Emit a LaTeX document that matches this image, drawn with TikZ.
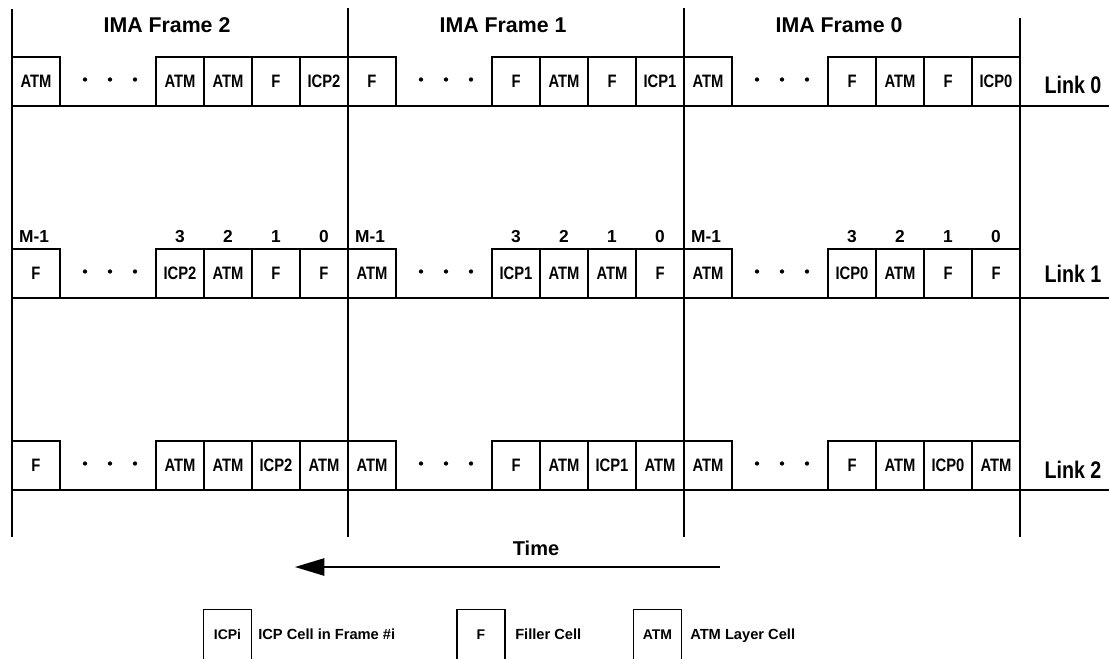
\documentclass[tikz,border=0pt]{standalone}
\usepackage{fontspec}
\setmainfont{Liberation Sans}
\newfontfamily\narrowsf[FakeStretch=0.82]{Liberation Sans}
\usetikzlibrary{arrows.meta}
\begin{document}
\begin{tikzpicture}[x=0.75pt,y=-0.75pt,
  cell/.style={draw, line width=1.05pt, minimum width=36pt, minimum height=36.75pt, inner sep=0pt,
    font=\narrowsf\bfseries\fontsize{13.5}{14}\selectfont},
  lcell/.style={draw, line width=0.9pt, minimum width=36pt, minimum height=38pt, inner sep=0pt,
    font=\bfseries\fontsize{10.5}{12}\selectfont},
  frameline/.style={line width=1.3pt},
  baseline/.style={line width=1.05pt},
  title/.style={font=\bfseries\fontsize{16}{18}\selectfont},
  linklabel/.style={font=\narrowsf\bfseries\fontsize{18}{20}\selectfont},
  idx/.style={anchor=base, inner sep=0pt, font=\bfseries\fontsize{13}{15}\selectfont},
  legtext/.style={anchor=base west, inner sep=0pt, font=\bfseries\fontsize{11}{13}\selectfont},
  timearrow/.style={line width=1.1pt, -{Triangle[length=22pt,width=13pt]}}]
\useasboundingbox (0,0) rectangle (1109,658);

% frame boundary lines
\coordinate (v0t) at (12,9);    \coordinate (v0b) at (12,537);
\coordinate (v1t) at (348,8);   \coordinate (v1b) at (348,537);
\coordinate (v2t) at (684,8);   \coordinate (v2b) at (684,537);
\coordinate (v3t) at (1020,18); \coordinate (v3b) at (1020,537);
\foreach \i in {0,1,2,3} \draw[frameline] (v\i t) -- (v\i b);

% link baselines
\coordinate (b0l) at (12,106);  \coordinate (b0r) at (1109,106);
\coordinate (b1l) at (12,298);  \coordinate (b1r) at (1109,298);
\coordinate (b2l) at (12,490);  \coordinate (b2r) at (1109,490);
\foreach \i in {0,1,2} \draw[baseline] (b\i l) -- (b\i r);

% frame titles
\node[title] (t2) at (167,25) {IMA Frame 2};
\node[title] (t1) at (503,25) {IMA Frame 1};
\node[title] (t0) at (839,25) {IMA Frame 0};

% cells
\foreach \r/\yc/\fr/\xo/\m/\ca/\cb/\cc/\cd in {
  0/81.5/2/12/ATM/ATM/ATM/F/ICP2, 0/81.5/1/348/F/F/ATM/F/ICP1, 0/81.5/0/684/ATM/F/ATM/F/ICP0,
  1/273.5/2/12/F/ICP2/ATM/F/F, 1/273.5/1/348/ATM/ICP1/ATM/ATM/F, 1/273.5/0/684/ATM/ICP0/ATM/F/F,
  2/465.5/2/12/F/ATM/ATM/ICP2/ATM, 2/465.5/1/348/ATM/F/ATM/ICP1/ATM, 2/465.5/0/684/ATM/F/ATM/ICP0/ATM}{
  \node[cell] (c\r-\fr-m) at (\xo+24,\yc) {\m};
  \node[cell] (c\r-\fr-3) at (\xo+168,\yc) {\ca};
  \node[cell] (c\r-\fr-2) at (\xo+216,\yc) {\cb};
  \node[cell] (c\r-\fr-1) at (\xo+264,\yc) {\cc};
  \node[cell] (c\r-\fr-0) at (\xo+312,\yc) {\cd};
  \foreach \dx in {73,98,123} \fill (\xo+\dx,\yc-2) circle (1.6pt);
}

% cell indices above link 1
\foreach \fr/\xo in {2/12,1/348,0/684}{
  \node[idx] (i\fr m) at (\xo+22,242) {M-1};
  \node[idx] (i\fr 3) at (\xo+168,242) {3};
  \node[idx] (i\fr 2) at (\xo+216,242) {2};
  \node[idx] (i\fr 1) at (\xo+264,242) {1};
  \node[idx] (i\fr 0) at (\xo+312,242) {0};
}

% link labels
\node[linklabel] (l0) at (1073,85) {Link 0};
\node[linklabel] (l1) at (1073,274) {Link 1};
\node[linklabel] (l2) at (1073,470) {Link 2};

% time arrow
\node[font=\bfseries\fontsize{15}{17}\selectfont] (time) at (536,548) {Time};
\coordinate (ts) at (720,567);
\coordinate (te) at (295,567);
\draw[timearrow] (ts) -- (te);

% legend
\node[lcell, anchor=north] (lg1) at (227.5,609) {ICPi};
\node[legtext] (lt1) at (258,639) {ICP Cell in Frame \#i};
\node[lcell, anchor=north] (lg2) at (481,609) {F};
\node[legtext] (lt2) at (515,639) {Filler Cell};
\node[lcell, anchor=north] (lg3) at (657.5,609) {ATM};
\node[legtext] (lt3) at (690,639) {ATM Layer Cell};
\end{tikzpicture}
\end{document}
